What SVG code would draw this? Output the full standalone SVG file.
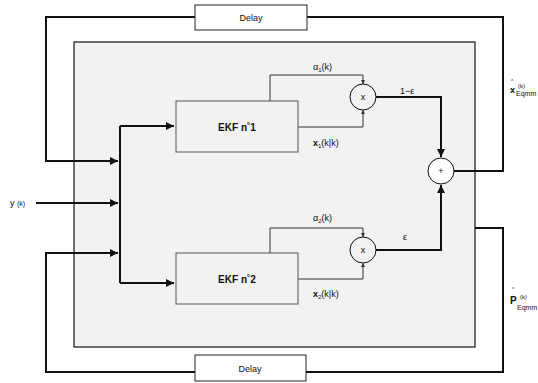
<svg xmlns="http://www.w3.org/2000/svg" width="538" height="383" viewBox="0 0 538 383">
<style>
text{font-family:"Liberation Sans",Arial,sans-serif;fill:#111}
.thick{fill:none;stroke:#111;stroke-width:2}
.thin{fill:none;stroke:#333;stroke-width:1}
.box{fill:#f2f2f2;stroke:#555;stroke-width:1}
.dbox{fill:#fff;stroke:#222;stroke-width:1}
.lbl{font-size:9px}
.ekf{font-size:10px;font-weight:bold}
.sm{font-size:6px}
</style>
<defs>
<marker id="ah" viewBox="0 0 10 10" refX="10" refY="5" markerWidth="5.5" markerHeight="4" orient="auto" markerUnits="strokeWidth"><path d="M0,0 L10,5 L0,10 Z" fill="#111"/></marker>
<marker id="as" viewBox="0 0 10 10" refX="10" refY="5" markerWidth="4" markerHeight="4" orient="auto" markerUnits="strokeWidth"><path d="M0,0 L10,5 L0,10 Z" fill="#333"/></marker>
</defs>
<rect id="container" x="74" y="42" width="401" height="305" fill="#f2f2f2" stroke="#111" stroke-width="1.2"/>
<g id="connectors">
<path class="thick" d="M195,17 H46 V161 H118" marker-end="url(#ah)"/>
<path class="thick" d="M36,203 H118" marker-end="url(#ah)"/>
<path class="thick" d="M195,372 H46 V253 H118" marker-end="url(#ah)"/>
<path class="thick" d="M120,126 V283"/>
<path class="thick" d="M120,126 H174" marker-end="url(#ah)"/>
<path class="thick" d="M120,283 H174" marker-end="url(#ah)"/>
<path class="thin" d="M270,101 V75 H363 V84" marker-end="url(#as)"/>
<path class="thin" d="M298,127 H363 V110" marker-end="url(#as)"/>
<path class="thin" d="M270,253 V228 H363 V237" marker-end="url(#as)"/>
<path class="thin" d="M298,279 H363 V263" marker-end="url(#as)"/>
<path class="thick" d="M376,97 H441 V157" marker-end="url(#ah)"/>
<path class="thick" d="M376,250 H441 V185" marker-end="url(#ah)"/>
<path class="thick" d="M453,171 H503 V17 H307"/>
<path class="thick" d="M475,228 H503 V372 H306"/>
</g>
<g id="delay-top"><rect class="dbox" x="195" y="5" width="112" height="25"/><text x="251" y="21" class="lbl" text-anchor="middle">Delay</text></g>
<g id="delay-bottom"><rect class="dbox" x="195" y="355" width="111" height="26"/><text x="250" y="372" class="lbl" text-anchor="middle">Delay</text></g>
<g id="ekf1"><rect class="box" x="176" y="101" width="122" height="51"/><text x="237" y="131" class="ekf" text-anchor="middle">EKF  n˚1</text></g>
<g id="ekf2"><rect class="box" x="176" y="253" width="122" height="51"/><text x="237" y="283" class="ekf" text-anchor="middle">EKF  n˚2</text></g>
<g id="mul1"><circle cx="363" cy="97" r="13" fill="#f2f2f2" stroke="#111" stroke-width="1"/><text x="363" y="100" class="lbl" text-anchor="middle">x</text></g>
<g id="mul2"><circle cx="363" cy="250" r="13" fill="#f2f2f2" stroke="#111" stroke-width="1"/><text x="363" y="253" class="lbl" text-anchor="middle">x</text></g>
<g id="sum"><circle cx="441" cy="171" r="13" fill="#fff" stroke="#111" stroke-width="1"/><text x="441" y="174" class="lbl" text-anchor="middle">+</text></g>
<g id="labels">
<text x="10" y="206" class="lbl">y <tspan font-size="7">(k)</tspan></text>
<text x="313" y="70" class="lbl">α<tspan font-size="6" dy="2">1</tspan><tspan dy="-2">(k)</tspan></text>
<text x="313" y="146" class="lbl"><tspan font-weight="bold">x</tspan><tspan font-size="6" dy="2">1</tspan><tspan dy="-2">(k|k)</tspan></text>
<text x="313" y="221" class="lbl">α<tspan font-size="6" dy="2">2</tspan><tspan dy="-2">(k)</tspan></text>
<text x="313" y="297" class="lbl"><tspan font-weight="bold">x</tspan><tspan font-size="6" dy="2">2</tspan><tspan dy="-2">(k|k)</tspan></text>
<text x="400" y="94" class="lbl">1−ε</text>
<text x="403" y="240" class="lbl">ε</text>
<text x="511" y="83" font-size="5">^</text>
<text x="510" y="93" class="lbl" font-weight="bold">x</text>
<text x="518" y="88" class="sm">(k)</text>
<text x="516" y="96" font-size="7">Eqmm</text>
<text x="512" y="291" font-size="5">^</text>
<text x="510" y="304" font-size="10" font-weight="bold">P</text>
<text x="520" y="299" class="sm">(k)</text>
<text x="517" y="310" font-size="7">Eqmm</text>
</g>
</svg>
